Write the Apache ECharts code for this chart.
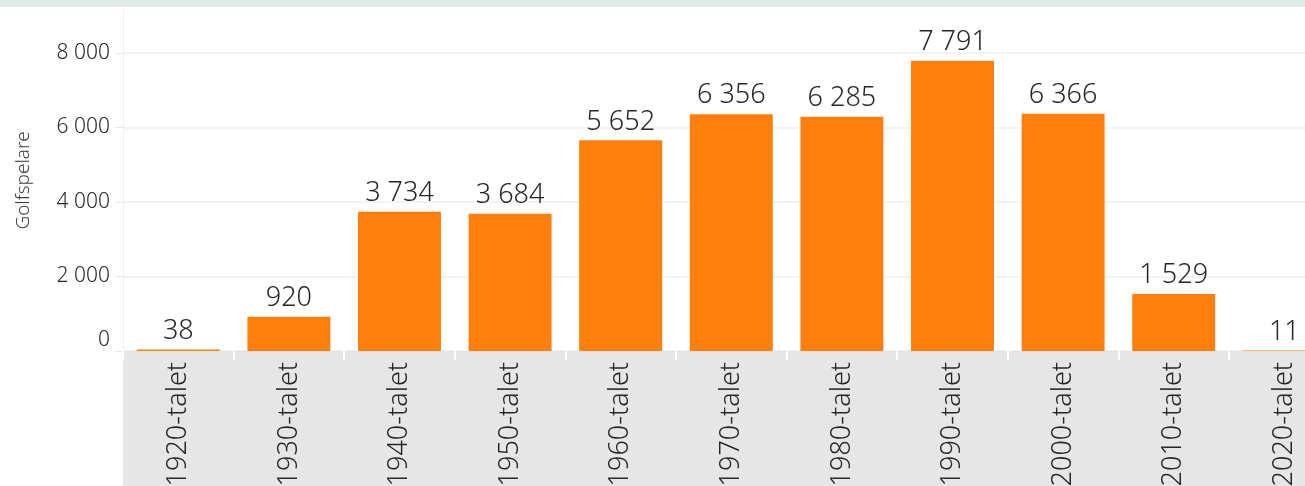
<!DOCTYPE html>
<html>
<head>
<meta charset="utf-8">
<script src="https://cdn.jsdelivr.net/npm/echarts@6/dist/echarts.min.js"></script>
<style>
  html, body { margin: 0; padding: 0; background: #ffffff; }
  #chart { width: 1305px; height: 486px; }
</style>
</head>
<body>
<div id="chart"></div>
<script>
// Golf players per decade
const decades = ['1920-talet', '1930-talet', '1940-talet', '1950-talet', '1960-talet',
                 '1970-talet', '1980-talet', '1990-talet', '2000-talet', '2010-talet', '2020-talet'];
const players = [38, 920, 3734, 3684, 5652, 6356, 6285, 7791, 6366, 1529, 11];
const yTickValues = [0, 2000, 4000, 6000, 8000];
const yAxisTop = 9150;

const FONT = '"Noto Sans", "DejaVu Sans", sans-serif';
const WEIGHT = 300;
const TEXT = '#262626';

// Space as thousands separator: 7791 -> "7 791"
function fmt(v) {
  return String(v).replace(/\B(?=(\d{3})+(?!\d))/g, ' ');
}

const plotLeft = 123;
const plotTop = 10;
const plotBottom = 351;
const band = 110.6;   // the last decade runs past the right edge of the canvas

const chart = echarts.init(document.getElementById('chart'), null, { renderer: 'canvas' });

chart.setOption({
  animation: false,
  backgroundColor: '#ffffff',
  textStyle: { fontFamily: FONT, fontWeight: WEIGHT },
  graphic: [
    { type: 'rect', z: -1, shape: { x: 0, y: 0, width: 1305, height: 7 }, style: { fill: '#dfece8' } },
    { type: 'rect', z: -1, shape: { x: plotLeft, y: plotBottom + 1, width: 1305 - plotLeft, height: 486 - plotBottom - 1 }, style: { fill: '#e6e6e6' } }
  ],
  grid: {
    left: plotLeft,
    top: plotTop,
    width: band * decades.length,
    height: plotBottom - plotTop,
    containLabel: false,
    outerBoundsMode: 'none'
  },
  xAxis: {
    type: 'category',
    data: decades,
    axisLine: { show: true, lineStyle: { color: '#e2e2e2', width: 1 } },
    axisTick: { show: true, length: 9, lineStyle: { color: '#ffffff', width: 2 } },
    axisLabel: {
      rotate: 90,
      margin: 11,
      fontSize: 27,
      color: TEXT,
      fontFamily: FONT,
      fontWeight: WEIGHT
    },
    splitLine: { show: false }
  },
  yAxis: {
    type: 'value',
    min: yTickValues[0],
    max: yAxisTop,
    interval: yTickValues[1] - yTickValues[0],
    name: 'Golfspelare',
    nameLocation: 'middle',
    nameGap: 90,
    nameTextStyle: { fontSize: 19, color: '#3c3c3c', fontFamily: FONT, fontWeight: WEIGHT },
    axisLine: { show: true, lineStyle: { color: '#efefef', width: 1 } },
    axisTick: { show: true, length: 8, lineStyle: { color: '#e6e6e6' } },
    splitLine: { show: true, showMaxLine: false, lineStyle: { color: '#efefef', width: 1.5 } },
    axisLabel: {
      showMaxLabel: false,
      margin: 13,
      fontSize: 21,
      color: TEXT,
      fontFamily: FONT,
      fontWeight: WEIGHT,
      formatter: function (v) {
        return v === 0 ? '{zero|0}' : fmt(v);
      },
      rich: {
        zero: { fontSize: 21, color: TEXT, fontFamily: FONT, fontWeight: WEIGHT, padding: [0, 0, 22, 0] }
      }
    }
  },
  series: [{
    type: 'bar',
    data: players,
    barCategoryGap: '25%',
    itemStyle: { color: '#ff7f0e' },
    label: {
      show: true,
      position: 'top',
      distance: 5,
      fontSize: 27,
      color: TEXT,
      fontFamily: FONT,
      fontWeight: WEIGHT,
      formatter: function (p) { return fmt(p.value); }
    }
  }]
});
</script>
</body>
</html>
